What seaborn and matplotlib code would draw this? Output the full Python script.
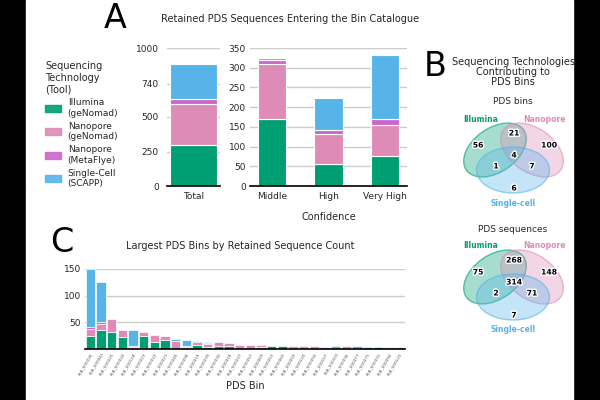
import numpy as np
import seaborn as sns
import matplotlib.pyplot as plt
import matplotlib.patheffects as pe
from matplotlib.patches import Ellipse, Patch, Rectangle

# %% data

techs = ["Illumina\n(geNomad)", "Nanopore\n(geNomad)",
         "Nanopore\n(MetaFlye)", "Single-Cell\n(SCAPP)"]
tech_colors = ["#009E73", "#DE8BB8", "#CC66CC", "#56B4E9"]

# panel A: retained sequences per confidence class
confidence = ["Middle", "High", "Very High"]
conf_illumina = [169, 56, 75]
conf_nano_genomad = [141, 77, 79]
conf_nano_metaflye = [10, 10, 17]
conf_single_cell = [5, 81, 161]
total_ticks = [0, 250, 500, 740, 1000]
conf_ticks = [0, 50, 100, 150, 200, 250, 300, 350]

# panel C: largest bins
bin_names = ["PLB_000026", "PLB_000041", "PLB_000025", "PLB_000024",
             "PLB_000128", "PLB_000023", "PLB_000022", "PLB_000021",
             "PLB_000040", "PLB_000098", "PLB_000019", "PLB_000039",
             "PLB_000030", "PLB_000018", "PLB_000037", "PLB_000057",
             "PLB_000069", "PLB_000053", "PLB_000060", "PLB_000059",
             "PLB_000120", "PLB_000092", "PLB_000107", "PLB_000101",
             "PLB_000036", "PLB_000077", "PLB_000075", "PLB_000031",
             "PLB_000094", "PLB_000125"]
bin_illumina = [25, 36, 31, 23, 0, 25, 14, 16, 0, 0, 8, 4, 6, 6, 0,
                0, 3, 6, 6, 0, 0, 0, 0, 0, 0, 0, 4, 4, 0, 0]
bin_nano_genomad = [13, 10, 26, 13, 3, 7, 13, 9, 15, 4, 5, 5, 7, 5, 8,
                    7, 5, 0, 0, 5, 5, 5, 0, 0, 5, 0, 0, 0, 4, 4]
bin_nano_metaflye = [4, 4, 0, 0, 3, 0, 0, 0, 0, 2, 0, 2, 0, 0, 0,
                     0, 0, 0, 0, 0, 0, 0, 3, 0, 0, 0, 0, 0, 0, 0]
bin_single_cell = [108, 75, 0, 0, 30, 0, 0, 0, 4, 10, 2, 3, 0, 0, 0,
                   0, 0, 0, 0, 0, 0, 0, 0, 5, 0, 5, 0, 0, 0, 0]

# panel B: venn counts
# region order: I only, I&N, N only, I&N&S, I&S, N&S, S only
venn_sets = ["Illumina", "Nanopore", "Single-cell"]
venn_colors = ["#009E73", "#DE8BB8", "#56B4E9"]
venn_bins = [56, 21, 100, 4, 1, 7, 6]
venn_seqs = [75, 268, 148, 314, 2, 71, 7]


# %% figure

sns.set_theme(style="whitegrid")
plt.rcParams["font.family"] = ["DejaVu Sans"]
plt.rcParams["text.color"] = "#262626"

fig = plt.figure(figsize=(6, 4), dpi=100, facecolor="black")
# white page with black margins
fig.patches.append(Rectangle((26 / 600, 0), 547 / 600, 1,
                             transform=fig.transFigure,
                             facecolor="white", zorder=-1))


def style_axes(ax, pad):
    sns.despine(ax=ax, left=True)
    ax.spines["bottom"].set_color("black")
    ax.spines["bottom"].set_linewidth(1.2)
    ax.tick_params(axis="both", length=0, labelsize=6.5,
                   colors="#262626")
    ax.tick_params(axis="y", pad=pad)
    ax.tick_params(axis="x", pad=4)
    ax.yaxis.grid(True, color="#cccccc", linewidth=1.0)
    ax.set_axisbelow(True)
    ax.set_xlabel("")
    ax.set_ylabel("")


def stacked(ax, cats, series, width, lw):
    bottom = np.zeros(len(cats))
    for vals, col in zip(series, tech_colors):
        vals = np.asarray(vals, dtype=float)
        # no white outline on empty segments
        widths = [lw if v > 0 else 0 for v in vals]
        sns.barplot(x=cats, y=vals, bottom=bottom, color=col,
                    saturation=1, width=width, edgecolor="white",
                    linewidth=widths, errorbar=None, ax=ax)
        bottom = bottom + vals


# %% panel A
conf_series = [conf_illumina, conf_nano_genomad,
               conf_nano_metaflye, conf_single_cell]

ax_tot = fig.add_axes([167 / 600, 214 / 400, 53 / 600, 138 / 400])
stacked(ax_tot, ["Total"], [[sum(s)] for s in conf_series], 0.9, 0.8)
ax_tot.set_ylim(0, 1000)
ax_tot.set_yticks(total_ticks)
style_axes(ax_tot, 6)

ax_conf = fig.add_axes([250 / 600, 214 / 400, 157 / 600, 138 / 400])
stacked(ax_conf, confidence, conf_series, 0.5, 0.8)
ax_conf.set_ylim(0, 350)
ax_conf.set_xlim(-0.4, 2.4)
ax_conf.set_yticks(conf_ticks)
style_axes(ax_conf, 3)
ax_conf.set_xlabel("Confidence", fontsize=7, labelpad=8)

fig.text(290 / 600, 1 - 19 / 400,
         "Retained PDS Sequences Entering the Bin Catalogue",
         fontsize=7, ha="center", va="center")
fig.text(115 / 600, 1 - 18 / 400, "A", fontsize=24,
         ha="center", va="center", color="black")

handles = [Patch(facecolor=c, edgecolor=c, alpha=0.9) for c in tech_colors]
fig.legend(handles, techs, title="Sequencing\nTechnology\n(Tool)",
           loc="upper left", bbox_to_anchor=(37 / 600, 1 - 53 / 400),
           frameon=False, fontsize=6.5, title_fontsize=7,
           handlelength=1.8, handleheight=0.8, labelspacing=0.45,
           handletextpad=0.7, alignment="left")


# %% panel C
ax_c = fig.add_axes([85 / 600, 51 / 400, 320 / 600, 80 / 400])
stacked(ax_c, bin_names,
        [bin_illumina, bin_nano_genomad, bin_nano_metaflye, bin_single_cell],
        0.85, 0.5)
ax_c.set_ylim(0, 150)
ax_c.set_yticks([50, 100, 150])
style_axes(ax_c, 3)
ax_c.tick_params(axis="x", labelsize=3.0, pad=2, colors="#555555")
for lab in ax_c.get_xticklabels():
    lab.set_rotation(60)
    lab.set_ha("right")
    lab.set_rotation_mode("anchor")
ax_c.set_xlabel("PDS Bin", fontsize=7, labelpad=4)

fig.text(240 / 600, 1 - 246 / 400,
         "Largest PDS Bins by Retained Sequence Count",
         fontsize=7, ha="center", va="center")
fig.text(62 / 600, 1 - 242 / 400, "C", fontsize=24,
         ha="center", va="center", color="black")


# %% panel B (venn diagrams)
ax_v = fig.add_axes([440 / 600, 60 / 400, 150 / 600, 240 / 400])
ax_v.set_xlim(440, 590)
ax_v.set_ylim(340, 100)
ax_v.axis("off")

fig.text(435 / 600, 1 - 67 / 400, "B", fontsize=24,
         ha="center", va="center", color="black")
fig.text(513 / 600, 1 - 72 / 400,
         "Sequencing Technologies\nContributing to\nPDS Bins",
         fontsize=7, ha="center", va="center", linespacing=1.0)

offsets = [(-35, -5), (1, -17), (36, -5), (1, 5), (-17, 16), (19, 16), (1, 38)]
outline = [pe.withStroke(linewidth=2, foreground="white")]

for cy, title, counts in [(150, "PDS bins", venn_bins),
                          (277, "PDS sequences", venn_seqs)]:
    ax_v.text(513, cy - 48, title, fontsize=6.5, ha="center", va="center")
    shapes = [((495, cy), 70, 44, -35),
              ((532, cy), 70, 44, 35),
              ((513, cy + 20), 73, 46, 0)]
    for (xy, w, h, ang), col in zip(shapes, venn_colors):
        ax_v.add_patch(Ellipse(xy, w, h, angle=ang, facecolor=col,
                               alpha=0.35, edgecolor="none"))
        ax_v.add_patch(Ellipse(xy, w, h, angle=ang, facecolor="none",
                               edgecolor=col, alpha=0.6, linewidth=1))
    for (dx, dy), n in zip(offsets, counts):
        ax_v.text(513 + dx, cy + dy, str(n), fontsize=5.5,
                  fontweight="bold", ha="center", va="center",
                  color="black", path_effects=outline)
    for (x, dy), name, col in zip([(481, -31), (544, -31), (513, 53)],
                                  venn_sets, venn_colors):
        ax_v.text(x, cy + dy, name, fontsize=5.5, fontweight="bold",
                  ha="center", va="center", color=col)

plt.savefig("out.png", dpi=100, facecolor=fig.get_facecolor())
